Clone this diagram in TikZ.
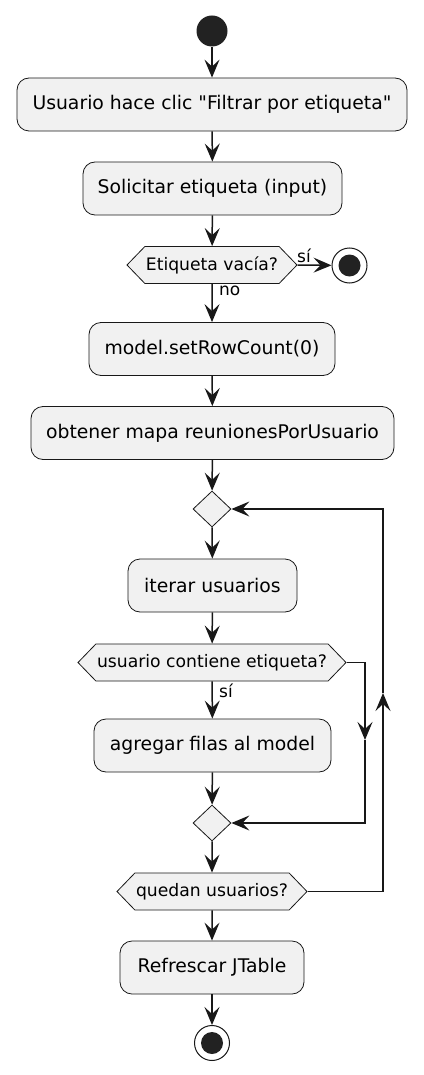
\documentclass[tikz,border=0pt]{standalone}
\usepackage{fontspec}
\setmainfont{DejaVu Sans}[Ligatures=TeXOff]
\usetikzlibrary{arrows.meta,shapes.geometric,shapes.symbols}
\definecolor{linec}{HTML}{181818}
\definecolor{fillc}{HTML}{F1F1F1}
\definecolor{dotc}{HTML}{222222}
\begin{document}
\begin{tikzpicture}[x=1pt,y=-1pt,
  act/.style={draw=linec, fill=fillc, rounded corners=12pt, line width=0.8pt,
    font=\fontsize{18.8}{22}\selectfont, inner sep=0pt, minimum height=53pt},
  hexa/.style={draw=linec, fill=fillc, line width=0.8pt, signal, signal to=west and east,
    signal pointer angle=92, font=\fontsize{17.2}{20}\selectfont, inner sep=0pt, minimum height=37pt},
  dia/.style={draw=linec, fill=fillc, line width=0.8pt, diamond, inner sep=0pt,
    minimum width=38pt, minimum height=36pt},
  startc/.style={circle, fill=dotc, inner sep=0pt, minimum size=31pt},
  stopc/.style={circle, draw=linec, fill=white, line width=1pt, inner sep=0pt, minimum size=35pt,
    path picture={\fill[dotc] (path picture bounding box.center) circle[radius=11pt];}},
  flow/.style={draw=linec, line width=1.5pt, -{Stealth[length=18pt, width=15pt, inset=7pt]}},
  lbl/.style={font=\fontsize{17}{19}\selectfont, inner sep=0pt}
]
\useasboundingbox (0,0) rectangle (423,1075);

\node[startc] (start) at (212,31) {};
\node[act, minimum width=390pt] (b1) at (212,104.5) {Usuario hace clic "Filtrar por etiqueta"};
\node[act, minimum width=259pt] (b2) at (212.5,188.5) {Solicitar etiqueta (input)};
\node[hexa, minimum width=170pt] (h1) at (212,265) {Etiqueta vacía?};
\node[stopc] (s1) at (349.5,265.5) {};
\node[act, minimum width=246pt] (b3) at (212,349) {model.setRowCount(0)};
\node[act, minimum width=363pt] (b4) at (212.5,433) {obtener mapa reunionesPorUsuario};
\node[dia] (d1) at (212,509) {};
\node[act, minimum width=169pt] (b5) at (212.5,585.5) {iterar usuarios};
\node[hexa, minimum width=268pt] (h2) at (212,662.5) {usuario contiene etiqueta?};
\node[act, minimum width=237pt] (b6) at (212.5,745.5) {agregar filas al model};
\node[dia] (d2) at (212,823) {};
\node[hexa, minimum width=190pt] (h3) at (212,891.5) {quedan usuarios?};
\node[act, minimum width=184pt] (b7) at (212,967.5) {Refrescar JTable};
\node[stopc] (s2) at (212,1043) {};

\coordinate (r1) at (365,662.5);
\coordinate (r2) at (365,740);
\coordinate (r3) at (365,823);
\coordinate (l1) at (383,891.5);
\coordinate (l2) at (383,693);
\coordinate (l3) at (383,509);

\path[flow] (start) -- (b1);
\path[flow] (b1) -- (b2);
\path[flow] (b2) -- (h1);
\path[flow] (h1.east) -- (s1);
\path[flow] (h1) -- (b3);
\path[flow] (b3) -- (b4);
\path[flow] (b4) -- (d1);
\path[flow] (d1) -- (b5);
\path[flow] (b5) -- (h2);
\path[flow] (h2) -- (b6);
\path[flow] (b6) -- (d2);
\path[flow] (h2.east) -- (r1) -- (r2);
\path[flow] (r2) -- (r3) -- (d2.east);
\path[flow] (d2) -- (h3);
\path[flow] (h3.east) -- (l1) -- (l2);
\path[flow] (l2) -- (l3) -- (d1.east);
\path[flow] (h3) -- (b7);
\path[flow] (b7) -- (s2);

\node[lbl, anchor=south west] (ls1) at (297,263) {sí};
\node[lbl, anchor=north west] (ln) at (219,286) {no};
\node[lbl, anchor=north west] (ls2) at (219,684) {sí};
\end{tikzpicture}
\end{document}
